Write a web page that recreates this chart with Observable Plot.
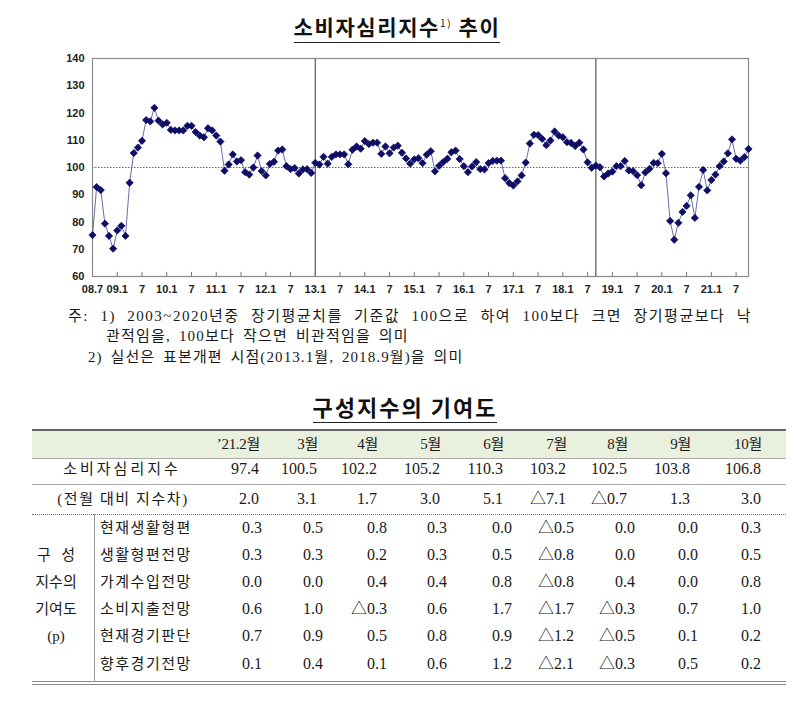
<!DOCTYPE html>
<html><head><meta charset="utf-8">
<script src="https://cdn.jsdelivr.net/npm/d3@7"></script>
<script src="https://cdn.jsdelivr.net/npm/@observablehq/plot@0.6"></script>
<style>
body{margin:0;width:800px;height:707px;position:relative;background:#fff;overflow:hidden;
  font-family:"Liberation Serif","Noto Sans CJK KR",serif;color:#1a1a1a}
.t{position:absolute;white-space:nowrap;height:20px;line-height:20px}
.hd{position:absolute;white-space:nowrap;font-family:"Noto Sans CJK KR",sans-serif;font-weight:700;color:#111}
.ln{position:absolute}
.num{font-size:16px}
.lab{font-size:15px}
#chart{position:absolute;left:0;top:45px}
#chart text{font-family:"Liberation Sans",Arial,sans-serif}
</style></head><body>
<div id="chart"></div>
<script>
// ---- chart data (소비자심리지수, 2008.7 ~ 2021.10, monthly) ----
const csi = [75.2,92.8,91.7,79.4,74.9,70.2,76.9,78.6,74.9,94.4,
105.3,107.3,109.8,117.4,116.9,121.9,117.2,115.8,116.4,113.8,
113.6,113.6,113.6,115.3,115.3,113.0,111.7,111.1,114.4,113.6,
111.7,109.5,98.8,101.1,104.8,102.2,102.7,98.3,97.4,100.0,
104.4,98.7,97.1,101.3,102.1,106.2,106.6,100.5,99.4,99.8,
97.8,99.3,99.4,98.0,101.7,101.1,103.9,101.4,103.9,104.8,
104.8,104.8,101.2,106.5,107.7,106.9,109.7,108.6,109.1,109.1,
105.0,107.7,105.2,107.3,108.0,105.4,103.3,101.4,103.0,103.4,
101.6,104.7,106.0,98.6,100.6,102.0,103.2,105.6,106.2,103.1,
100.5,98.3,100.4,102.0,99.4,99.3,101.6,102.4,102.5,102.5,
96.1,94.3,93.4,94.9,97.1,101.8,108.8,112.0,111.9,110.5,
108.2,109.9,113.2,111.7,111.1,109.3,109.0,107.9,109.1,106.6,
101.9,99.9,100.7,100.1,96.7,97.8,98.5,100.5,100.5,102.4,
98.9,98.7,97.2,93.5,98.2,99.5,101.7,101.6,105.0,97.9,
80.4,73.5,79.7,83.7,85.9,89.8,81.5,92.9,99.1,91.6,
95.4,97.4,100.5,102.2,105.2,110.3,103.2,102.5,103.8,106.8];
const xTickIdx = [0,6,12,18,24,30,36,42,48,54,60,66,72,78,84,90,96,102,108,114,120,126,132,138,144,150,156];
const xTickLabels = ["08.7","09.1","7","10.1","7","11.1","7","12.1","7","13.1","7","14.1","7","15.1","7","16.1","7","17.1","7","18.1","7","19.1","7","20.1","7","21.1","7"];
const yTicks = [60,70,80,90,100,110,120,130,140];
const breakIdx = [54,122];      // 2013.1, 2018.9 표본개편
const baseline = [100];

// ---- table data ----
const tableMonths = ["’21.2월","3월","4월","5월","6월","7월","8월","9월","10월"];
const csiRow = ["97.4","100.5","102.2","105.2","110.3","103.2","102.5","103.8","106.8"];
const diffRow = ["2.0","3.1","1.7","3.0","5.1","△7.1","△0.7","1.3","3.0"];
const compNames = ["현재생활형편","생활형편전망","가계수입전망","소비지출전망","현재경기판단","향후경기전망"];
const compValues = [
 ["0.3","0.5","0.8","0.3","0.0","△0.5","0.0","0.0","0.3"],
 ["0.3","0.3","0.2","0.3","0.5","△0.8","0.0","0.0","0.5"],
 ["0.0","0.0","0.4","0.4","0.8","△0.8","0.4","0.0","0.8"],
 ["0.6","1.0","△0.3","0.6","1.7","△1.7","△0.3","0.7","1.0"],
 ["0.7","0.9","0.5","0.8","0.9","△1.2","△0.5","0.1","0.2"],
 ["0.1","0.4","0.1","0.6","1.2","△2.1","△0.3","0.5","0.2"]];
const groupLabel = ["구 성","지수의","기여도","(p)"];

// ---- chart ----
const data = csi.map((v, i) => ({i, v}));
const labelOf = new Map(xTickIdx.map((d, k) => [d, xTickLabels[k]]));
const chart = Plot.plot({
  width: 800, height: 260,
  marginLeft: 92, marginRight: 52, marginTop: 13, marginBottom: 29,
  x: {type: "linear", domain: [0, csi.length - 1], label: null},
  y: {domain: [60, 140], label: null},
  marks: [
    Plot.ruleY(baseline, {stroke: "#666", strokeDasharray: "1.5,1.5", strokeWidth: 1}),
    Plot.ruleX(breakIdx, {stroke: "#555", strokeWidth: 1.2}),
    Plot.ruleX(xTickIdx, {y1: 60, y2: 61.5, stroke: "#777"}),
    Plot.frame({stroke: "#8a8a8a", strokeWidth: 1.2}),
    Plot.axisY(yTicks, {tickSize: 0, tickPadding: 8, fontSize: 11, fontWeight: "bold", fill: "#222", label: null}),
    Plot.axisX(xTickIdx, {tickSize: 0, tickPadding: 9, fontSize: 11, fontWeight: "bold", fill: "#222", label: null,
      tickFormat: d => labelOf.get(d)}),
    Plot.line(data, {x: "i", y: "v", stroke: "#6b6ba6", strokeWidth: 1}),
    Plot.dot(data, {x: "i", y: "v", symbol: "diamond2", r: 3.3, fill: "#0d0d66", stroke: "#0d0d66", strokeWidth: 0.7})
  ]
});
document.getElementById("chart").appendChild(chart);

// ---- helpers ----
function el(tag, cls, style, text) {
  const d = document.createElement(tag);
  if (cls) d.className = cls;
  Object.assign(d.style, style);
  if (text != null) d.textContent = text;
  document.body.appendChild(d);
  return d;
}
function txt(s, x, y, align, cls, extra) {
  const st = {top: (y - 10) + "px"};
  if (align === "right") st.right = (800 - x) + "px";
  else if (align === "center") { st.left = (x - 100) + "px"; st.width = "200px"; st.textAlign = "center"; }
  else st.left = x + "px";
  return el("div", "t " + (cls || ""), Object.assign(st, extra || {}), s);
}
function hline(y, x1, x2, style) {
  return el("div", "ln", Object.assign({left: x1 + "px", top: y + "px", width: (x2 - x1) + "px", height: "0px"}, style));
}

// ---- titles ----
const t1 = el("div", "hd", {left: "0px", width: "794px", top: "8px", textAlign: "center", fontSize: "21px", letterSpacing: "1.6px", lineHeight: "29px"});
t1.innerHTML = '<span style="border-bottom:1.6px solid #222;padding-bottom:1px">소비자심리지수<sup style="font-size:10px;font-weight:400;vertical-align:8px">1)</sup> 추이</span>';

// ---- notes ----
const noteStyle = {fontSize: "15px"};
el("div", "t", Object.assign({left: "68px", width: "684px", top: "306px", whiteSpace: "normal", textAlign: "justify", textAlignLast: "justify", letterSpacing: "1.5px"}, noteStyle),
  "주: 1) 2003~2020년중 장기평균치를 기준값 100으로 하여 100보다 크면 장기평균보다 낙");
el("div", "t", Object.assign({left: "106px", top: "326px", wordSpacing: "3px", letterSpacing: "1.2px"}, noteStyle),
  "관적임을, 100보다 작으면 비관적임을 의미");
el("div", "t", Object.assign({left: "88px", top: "347px", wordSpacing: "3px", letterSpacing: "1.1px"}, noteStyle),
  "2) 실선은 표본개편 시점(2013.1월, 2018.9월)을 의미");

// ---- table title ----
const t2 = el("div", "hd", {left: "0px", width: "810px", top: "391px", textAlign: "center", fontSize: "22px", letterSpacing: "2px", lineHeight: "31px"});
t2.innerHTML = '<span style="border-bottom:1.6px solid #222;padding-bottom:0px">구성지수의 기여도</span>';

// ---- table ----
const X1 = 32, X2 = 786;
el("div", "ln", {left: X1 + "px", top: "430px", width: (X2 - X1) + "px", height: "28px", background: "#e9f0dd"});
hline(429, X1, X2, {borderTop: "2px solid #666"});
hline(458, X1, X2, {borderTop: "1px solid #aaa"});
hline(484, X1, X2, {borderTop: "1px solid #aaa"});
hline(514, X1, X2, {borderTop: "1px dotted #777"});
hline(681, X1, X2, {borderTop: "1px solid #888"});
hline(684, X1, X2, {borderTop: "1.5px solid #888"});
el("div", "ln", {left: "94px", top: "514px", width: "0px", height: "168px", borderLeft: "1px solid #999"});

const upperEdges = [259, 317, 377, 440, 503, 566, 627, 690, 761];
const lowerEdges = [262, 323, 387, 447, 512, 574, 635, 698, 761];

tableMonths.forEach((m, k) => txt(m, upperEdges[k] + 1, 444, "right", "lab", {letterSpacing: "-0.3px"}));
txt("소비자심리지수", 122, 469, "center", "lab", {letterSpacing: "3px"});
csiRow.forEach((v, k) => txt(v, upperEdges[k], 469, "right", "num"));
txt("(전월 대비 지수차)", 123, 499, "center", "lab", {letterSpacing: "1.6px"});
diffRow.forEach((v, k) => txt(v, upperEdges[k], 499, "right", "num"));

const rowY = [528, 555, 582, 609, 636, 664];
compNames.forEach((n, r) => {
  txt(n, 100, rowY[r], "left", "lab", {letterSpacing: "1.5px"});
  compValues[r].forEach((v, k) => txt(v, lowerEdges[k], rowY[r], "right", "num"));
});
const gY = [555, 582, 609, 636];
groupLabel.forEach((g, k) => {
  txt(g, 56, gY[k], "center", "lab", k === 0 ? {width: "38px", left: "37px", textAlign: "justify", textAlignLast: "justify", whiteSpace: "normal"} : {});
});
</script>
</body></html>
